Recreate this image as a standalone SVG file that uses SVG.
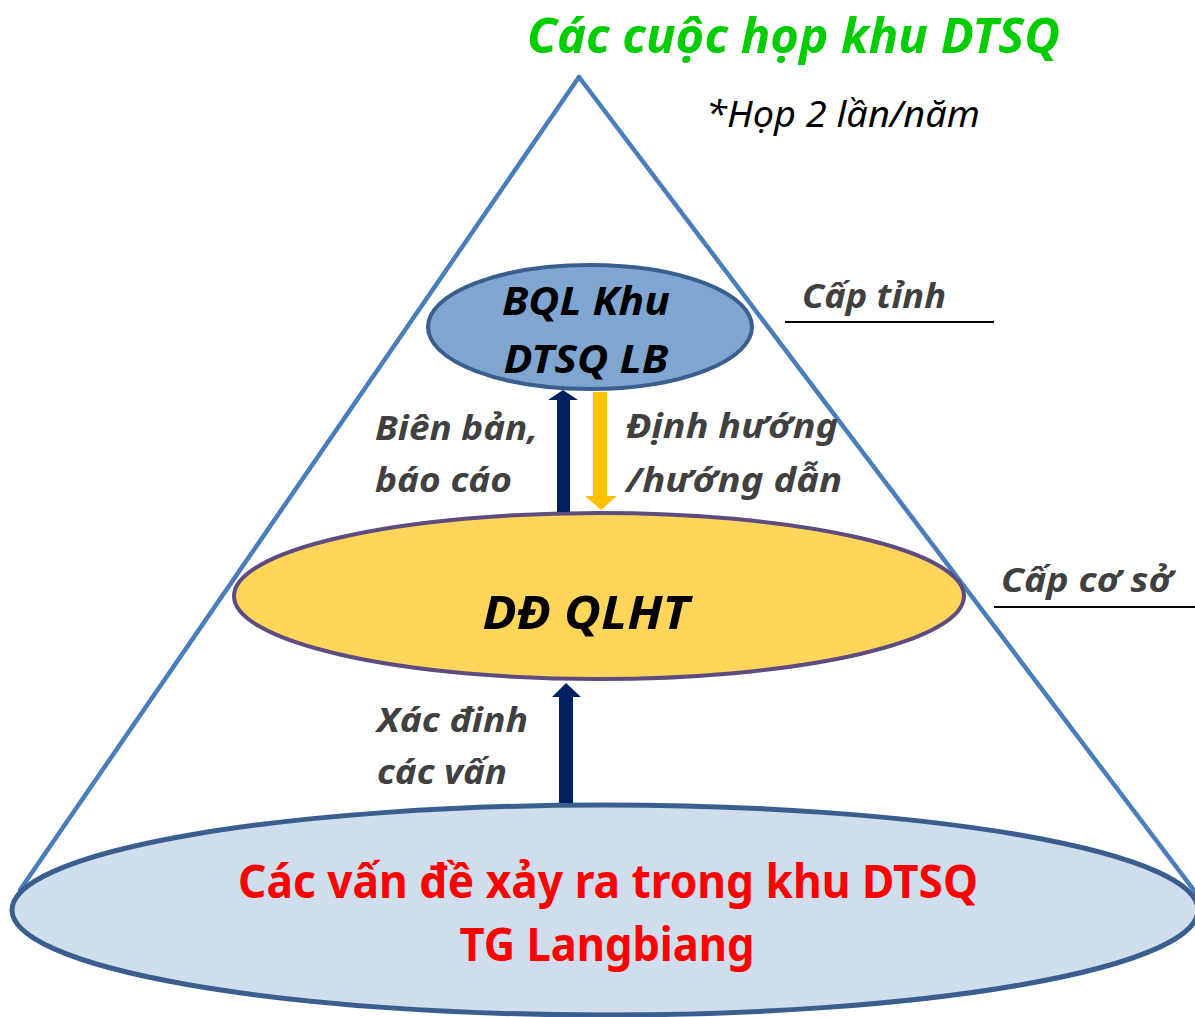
<svg xmlns="http://www.w3.org/2000/svg" width="1195" height="1017" viewBox="0 0 1195 1017">
<style>
  .tri{stroke:#4A7EBB;stroke-width:4.5;fill:none;stroke-linecap:round}
  .t{font-family:"Noto Sans","Open Sans","DejaVu Sans",sans-serif;font-weight:bold;font-style:italic}
  .gray{fill:#404040;font-size:34px}
  .uline{stroke:#000;stroke-width:2}
  .navy{fill:#002060}
  .gold{fill:#FFC000}
</style>
<rect width="1195" height="1017" fill="#fff"/>
<g id="pyramid">
  <line class="tri" x1="579" y1="77" x2="20" y2="890"/>
  <line class="tri" x1="579" y1="77" x2="1196" y2="893"/>
</g>
<g id="base">
  <ellipse cx="605" cy="910" rx="593" ry="105" fill="#CFDDEC" stroke="#3A5F8F" stroke-width="5"/>
  <text x="608" y="898" text-anchor="middle" font-family="'Noto Sans','Open Sans',sans-serif" font-weight="bold" font-size="46" fill="#FF0000" textLength="740" lengthAdjust="spacingAndGlyphs">Các vấn đề xảy ra trong khu DTSQ</text>
  <text x="607" y="961" text-anchor="middle" font-family="'Noto Sans','Open Sans',sans-serif" font-weight="bold" font-size="46" fill="#FF0000" textLength="295" lengthAdjust="spacingAndGlyphs">TG Langbiang</text>
</g>
<g id="dd-qlht">
  <ellipse cx="599" cy="596" rx="365" ry="83" fill="#FFD55A" stroke="#5E4B80" stroke-width="4"/>
  <text class="t" x="586" y="629" text-anchor="middle" font-size="46" fill="#000" textLength="207" lengthAdjust="spacingAndGlyphs">DĐ QLHT</text>
</g>
<g id="bql">
  <ellipse cx="590" cy="327" rx="162" ry="62" fill="#7FA6D0" stroke="#3A5F8F" stroke-width="4"/>
  <text class="t" x="586" y="315" text-anchor="middle" font-size="40" fill="#000" textLength="168" lengthAdjust="spacingAndGlyphs">BQL Khu</text>
  <text class="t" x="586" y="373" text-anchor="middle" font-size="40" fill="#000" textLength="165" lengthAdjust="spacingAndGlyphs">DTSQ LB</text>
</g>
<g id="connectors">
  <polygon class="navy" points="557,512 570,512 570,400 578,400 563,390 548,400 557,400"/>
  <polygon class="gold" points="593,392 607,392 607,496 617,496 601,510 585,496 593,496"/>
  <polygon class="navy" points="559,803 573,803 573,697 581,697 566,683 552,697 559,697"/>
</g>
<g id="labels">
  <text class="t" x="527" y="53" font-size="48" fill="#00CC00" textLength="533" lengthAdjust="spacingAndGlyphs">Các cuộc họp khu DTSQ</text>
  <text x="706" y="127" font-family="'Noto Sans','Open Sans',sans-serif" font-style="italic" font-size="37" fill="#000" textLength="274" lengthAdjust="spacingAndGlyphs">*Họp 2 lần/năm</text>
  <text class="t gray" x="802" y="308" textLength="144" lengthAdjust="spacingAndGlyphs">Cấp tỉnh</text>
  <line class="uline" x1="785" y1="322" x2="994" y2="322"/>
  <text class="t gray" x="1001" y="592" textLength="172" lengthAdjust="spacingAndGlyphs">Cấp cơ sở</text>
  <line class="uline" x1="994" y1="607" x2="1195" y2="607"/>
  <text class="t gray" x="375" y="440" textLength="163" lengthAdjust="spacingAndGlyphs">Biên bản,</text>
  <text class="t gray" x="375" y="492" textLength="137" lengthAdjust="spacingAndGlyphs">báo cáo</text>
  <text class="t gray" x="626" y="438" textLength="212" lengthAdjust="spacingAndGlyphs">Định hướng</text>
  <text class="t gray" x="626" y="492" textLength="216" lengthAdjust="spacingAndGlyphs">/hướng dẫn</text>
  <text class="t gray" x="377" y="732" textLength="151" lengthAdjust="spacingAndGlyphs">Xác đinh</text>
  <text class="t gray" x="377" y="784" textLength="130" lengthAdjust="spacingAndGlyphs">các vấn</text>
</g>
</svg>
